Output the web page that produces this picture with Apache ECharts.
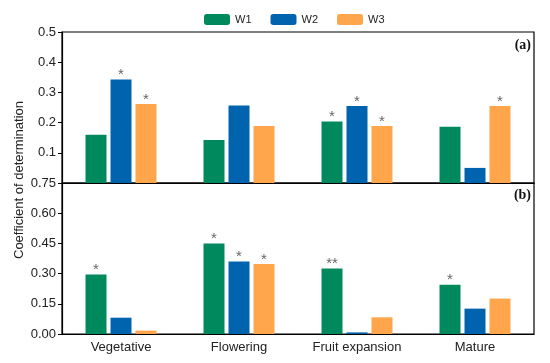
<!DOCTYPE html>
<html><head><meta charset="utf-8">
<script src="https://cdn.jsdelivr.net/npm/echarts@6/dist/echarts.min.js"></script>
<style>html,body{margin:0;padding:0;background:#fff}#c{width:550px;height:363px}</style>
</head><body><div id="c"></div>
<script>
const categories = ['Vegetative', 'Flowering', 'Fruit expansion', 'Mature'];
const seriesNames = ['W1', 'W2', 'W3'];
// Panel (a)
const a_W1 = [0.160, 0.142, 0.204, 0.186];
const a_W2 = [0.343, 0.257, 0.255, 0.050];
const a_W3 = [0.262, 0.189, 0.189, 0.255];
const a_sig_W1 = ['', '', '*', ''];
const a_sig_W2 = ['*', '', '*', ''];
const a_sig_W3 = ['*', '', '*', '*'];
// Panel (b)
const b_W1 = [0.295, 0.449, 0.325, 0.245];
const b_W2 = [0.081, 0.360, 0.008, 0.126];
const b_W3 = [0.017, 0.348, 0.083, 0.176];
const b_sig_W1 = ['*', '*', '**', '*'];
const b_sig_W2 = ['', '*', '', ''];
const b_sig_W3 = ['', '*', '', ''];
const a_ticks = [0, 0.1, 0.2, 0.3, 0.4, 0.5];
const b_ticks = [0, 0.15, 0.30, 0.45, 0.60, 0.75];
const colors = ['#00895C', '#0063AE', '#FFA54C'];

const chart = echarts.init(document.getElementById('c'));
const axisFont = {fontFamily: 'Liberation Sans, Arial, sans-serif', color: '#222'};
function mkSeries(name, data, sig, idx, color) {
  return {
    name: name, type: 'bar', xAxisIndex: idx, yAxisIndex: idx,
    data: data, barWidth: 21, barGap: '19%',
    itemStyle: {color: color},
    label: {show: true, position: 'top', distance: -3,
      formatter: p => sig[p.dataIndex], fontSize: 15, color: '#666',
      fontFamily: 'Liberation Sans, Arial, sans-serif'}
  };
}
const option = {
  animation: false,
  color: colors,
  legend: {
    top: 9, left: 199, itemWidth: 26, itemHeight: 11, itemGap: 19,
    data: seriesNames, textStyle: Object.assign({fontSize: 11}, axisFont)
  },
  grid: [
    {left: 62, right: 16, top: 32, height: 151, show: true, borderColor: '#000', borderWidth: 1.2, containLabel: false},
    {left: 62, right: 16, top: 183, height: 151, show: true, borderColor: '#000', borderWidth: 1.2, containLabel: false}
  ],
  xAxis: [
    {type: 'category', gridIndex: 0, data: categories,
     axisLine: {lineStyle: {color: '#000', width: 1.2}},
     axisTick: {alignWithLabel: true, length: 4, lineStyle: {color: '#000'}},
     axisLabel: {show: false}},
    {type: 'category', gridIndex: 1, data: categories,
     axisLine: {lineStyle: {color: '#000', width: 1.2}},
     axisTick: {alignWithLabel: true, length: 4, lineStyle: {color: '#000'}},
     axisLabel: Object.assign({fontSize: 13, margin: 7}, axisFont)}
  ],
  yAxis: [
    {type: 'value', gridIndex: 0, min: a_ticks[0], max: a_ticks[a_ticks.length - 1], interval: 0.1,
     splitLine: {show: false},
     axisLine: {show: true, lineStyle: {color: '#000', width: 1.2}},
     axisTick: {show: true, length: 4, lineStyle: {color: '#000'}},
     axisLabel: Object.assign({fontSize: 13, margin: 6,
       formatter: v => (Math.abs(v) < 1e-9 ? '' : v.toFixed(1))}, axisFont)},
    {type: 'value', gridIndex: 1, min: b_ticks[0], max: b_ticks[b_ticks.length - 1], interval: 0.15,
     splitLine: {show: false},
     axisLine: {show: true, lineStyle: {color: '#000', width: 1.2}},
     axisTick: {show: true, length: 4, lineStyle: {color: '#000'}},
     axisLabel: Object.assign({fontSize: 13, margin: 6,
       formatter: v => v.toFixed(2)}, axisFont)}
  ],
  graphic: [
    {type: 'text', x: 19, y: 180, rotation: Math.PI / 2,
     style: {text: 'Coefficient of determination', fontSize: 13, fill: '#222',
       fontFamily: 'Liberation Sans, Arial, sans-serif', align: 'center', verticalAlign: 'middle'}},
    {type: 'text', x: 531, y: 45,
     style: {text: '(a)', fontSize: 14, fill: '#111', fontFamily: 'Liberation Serif, Times New Roman, serif',
       fontWeight: 'bold', align: 'right', verticalAlign: 'middle'}},
    {type: 'text', x: 531, y: 195,
     style: {text: '(b)', fontSize: 14, fill: '#111', fontFamily: 'Liberation Serif, Times New Roman, serif',
       fontWeight: 'bold', align: 'right', verticalAlign: 'middle'}}
  ],
  series: [
    mkSeries('W1', a_W1, a_sig_W1, 0, colors[0]),
    mkSeries('W2', a_W2, a_sig_W2, 0, colors[1]),
    mkSeries('W3', a_W3, a_sig_W3, 0, colors[2]),
    mkSeries('W1', b_W1, b_sig_W1, 1, colors[0]),
    mkSeries('W2', b_W2, b_sig_W2, 1, colors[1]),
    mkSeries('W3', b_W3, b_sig_W3, 1, colors[2])
  ]
};
chart.setOption(option);
</script></body></html>
